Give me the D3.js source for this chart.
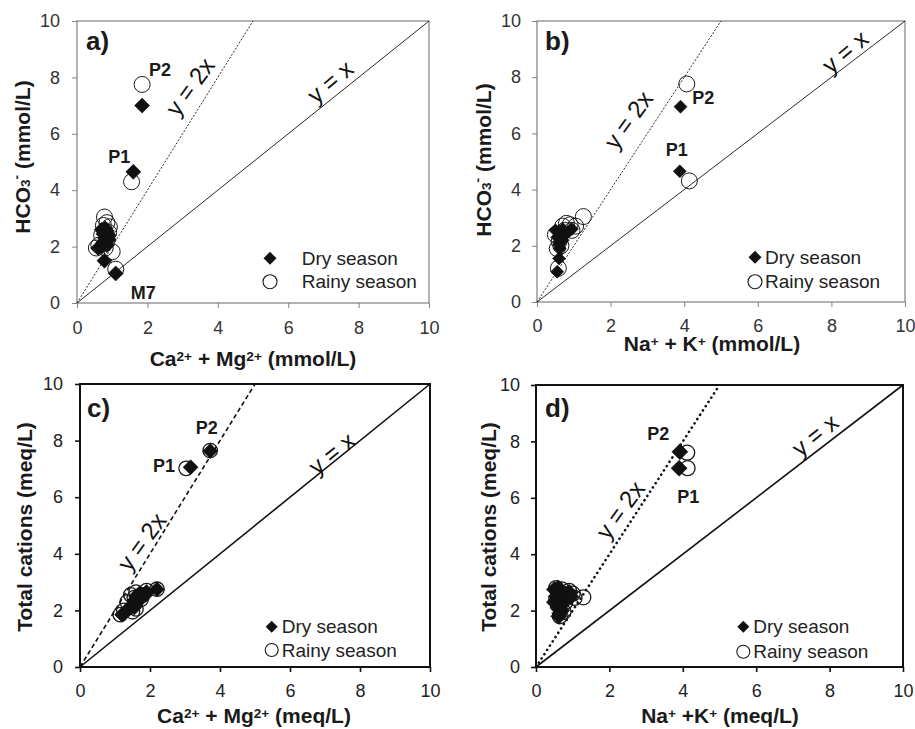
<!DOCTYPE html>
<html>
<head>
<meta charset="utf-8">
<script src="https://cdn.jsdelivr.net/npm/d3@7/dist/d3.min.js"></script>
<style>
  body { margin: 0; background: #fff; }
  svg { display: block; font-family: "Liberation Sans", Arial, sans-serif; }
</style>
</head>
<body>
<svg id="fig" width="915" height="729"></svg>
<script>
// ---------- data ----------
const tickValues = [0, 2, 4, 6, 8, 10];
const seriesNames = ["Dry season", "Rainy season"];

// a) Ca2+ + Mg2+ vs HCO3- (mmol/L)
const aDryX   = [1.85, 1.60, 1.10, 0.78, 0.60, 0.70, 0.75, 0.85, 0.80, 0.90, 0.85, 0.75, 0.80, 0.90, 0.70];
const aDryY   = [7.00, 4.65, 1.05, 1.50, 1.95, 2.00, 2.15, 2.05, 2.30, 2.40, 2.55, 2.45, 2.65, 2.25, 2.60];
const aRainyX = [1.85, 1.55, 1.10, 0.78, 0.85, 0.92, 0.75, 0.55, 0.62, 1.00, 0.85, 0.80, 0.70, 0.90];
const aRainyY = [7.75, 4.30, 1.20, 3.05, 2.85, 2.70, 2.75, 1.95, 2.05, 1.82, 2.20, 1.95, 2.40, 2.50];
const aPointLabels = ["P2", "P1", "M7"];

// b) Na+ + K+ vs HCO3- (mmol/L)
const bDryX   = [3.90, 3.88, 0.55, 0.60, 0.50, 0.60, 0.65, 0.70, 0.60, 0.62, 0.75, 0.85, 0.95, 0.70, 0.55];
const bDryY   = [6.95, 4.65, 1.08, 1.55, 2.55, 2.50, 2.35, 2.20, 2.05, 1.90, 2.40, 2.50, 2.60, 2.60, 2.30];
const bRainyX = [4.07, 4.14, 0.58, 1.26, 0.80, 0.90, 1.05, 0.55, 0.50, 0.65, 0.75, 0.95, 0.60, 0.70];
const bRainyY = [7.76, 4.31, 1.20, 3.04, 2.80, 2.75, 2.70, 1.90, 2.40, 2.00, 2.55, 2.55, 2.15, 2.70];
const bPointLabels = ["P2", "P1"];

// c) Ca2+ + Mg2+ vs total cations (meq/L)
const cDryX   = [3.72, 3.16, 1.20, 1.30, 1.40, 1.50, 1.55, 1.60, 1.70, 1.85, 1.65, 1.45, 2.20, 1.90, 1.75, 1.55];
const cDryY   = [7.63, 7.06, 1.85, 1.95, 2.05, 2.20, 2.35, 2.50, 2.60, 2.55, 2.30, 2.15, 2.75, 2.65, 2.45, 2.10];
const cRainyX = [3.72, 3.03, 1.15, 1.50, 1.60, 1.90, 2.20, 1.45, 1.60, 1.75, 1.35, 1.80, 1.55, 1.25];
const cRainyY = [7.65, 7.02, 1.85, 1.95, 2.05, 2.70, 2.75, 2.55, 2.65, 2.40, 2.30, 2.55, 2.45, 2.00];
const cPointLabels = ["P2", "P1"];

// d) Na+ + K+ vs total cations (meq/L)
const dDryX   = [3.92, 3.90, 0.50, 0.60, 0.55, 0.50, 0.60, 0.65, 0.70, 0.75, 0.80, 0.90, 0.95, 0.65, 0.70, 0.62];
const dDryY   = [7.63, 7.05, 2.75, 2.80, 2.50, 2.30, 2.10, 1.90, 2.00, 2.40, 2.60, 2.65, 2.50, 2.60, 2.20, 1.80];
const dRainyX = [4.12, 4.13, 0.55, 0.90, 1.00, 1.05, 1.29, 0.65, 0.60, 0.80, 0.70, 0.55, 0.75, 0.85];
const dRainyY = [7.60, 7.05, 2.80, 2.70, 2.60, 2.45, 2.47, 1.80, 2.20, 2.30, 2.75, 2.40, 1.95, 2.50];
const dPointLabels = ["P2", "P1"];

// ---------- layout / styling ----------
const panels = [
  {
    tag: "a)", left: 77, right: 429, top: 21, bottom: 303,
    dryX: aDryX, dryY: aDryY, rainyX: aRainyX, rainyY: aRainyY,
    frame: "#7f7f7f", frameW: 1.2, tickCol: "#7f7f7f", tickFont: 18, tickCol2: "#333",
    xPad: 13, yPad: 12,
    xTitle: [["Ca", 0], ["2+", 1], [" + Mg", 0], ["2+", 1], [" (mmol/L)", 0]], xTitlePos: [253, 366],
    yTitle: [["HCO", 0], ["3", -1], ["-", 1], [" (mmol/L)", 0]], yTitlePos: [22, 157],
    refStyle: { k2: { w: 0.9, dash: "2,1.6", cap: "butt" }, k1: { w: 0.9 } },
    refLabels: [{ t: "y = 2x", x: 3.21, y: 7.67, rot: -54 }, { t: "y = x", x: 7.19, y: 7.85, rot: -40 }],
    pointLabels: aPointLabels, pointLabelPos: [[2.36, 8.26], [1.20, 5.19], [1.88, 0.37]],
    diamondH: 7.5, circleR: 8, circleW: 1,
    legend: { mx: 193, my: 237.3, dy: 23.4, tx: 224.7, font: 19, dH: 6.5, cR: 7 },
    tagPos: [9, 29]
  },
  {
    tag: "b)", left: 537, right: 905, top: 21, bottom: 302,
    dryX: bDryX, dryY: bDryY, rainyX: bRainyX, rainyY: bRainyY,
    frame: "#7f7f7f", frameW: 1.2, tickCol: "#7f7f7f", tickFont: 18, tickCol2: "#333",
    xPad: 12, yPad: 11,
    xTitle: [["Na", 0], ["+", 1], [" + K", 0], ["+", 1], [" (mmol/L)", 0]], xTitlePos: [712, 351],
    yTitle: [["HCO", 0], ["3", -1], ["-", 1], [" (mmol/L)", 0]], yTitlePos: [483, 160],
    refStyle: { k2: { w: 0.9, dash: "2,1.6", cap: "butt" }, k1: { w: 0.9 } },
    refLabels: [{ t: "y = 2x", x: 2.48, y: 6.48, rot: -54 }, { t: "y = x", x: 8.37, y: 8.91, rot: -40 }],
    pointLabels: bPointLabels, pointLabelPos: [[4.52, 7.25], [3.80, 5.41]],
    diamondH: 6.5, circleR: 8, circleW: 1,
    legend: { mx: 218, my: 236.3, dy: 24.4, tx: 228, font: 19, dH: 6.5, cR: 7 },
    tagPos: [8, 29]
  },
  {
    tag: "c)", left: 80, right: 430, top: 384, bottom: 667,
    dryX: cDryX, dryY: cDryY, rainyX: cRainyX, rainyY: cRainyY,
    frame: "#111", frameW: 2, tickCol: "#111", tickFont: 18, tickCol2: "#222",
    xPad: 12, yPad: 12,
    xTitle: [["Ca", 0], ["2+", 1], [" + Mg", 0], ["2+", 1], [" (meq/L)", 0]], xTitlePos: [254, 723],
    yTitle: [["Total cations (meq/L)", 0]], yTitlePos: [24, 527],
    refStyle: { k2: { w: 1.6, dash: "4.5,3", cap: "butt" }, k1: { w: 1.6 } },
    refLabels: [{ t: "y = 2x", x: 1.76, y: 4.43, rot: -54 }, { t: "y = x", x: 7.19, y: 7.55, rot: -39 }],
    pointLabels: cPointLabels, pointLabelPos: [[3.62, 8.43], [2.40, 7.10]],
    diamondH: 7.5, circleR: 7.2, circleW: 1.3,
    legend: { mx: 191.7, my: 242.7, dy: 23.3, tx: 201.7, font: 19, dH: 6, cR: 6.5 },
    tagPos: [7, 33]
  },
  {
    tag: "d)", left: 536, right: 903, top: 385, bottom: 667,
    dryX: dDryX, dryY: dDryY, rainyX: dRainyX, rainyY: dRainyY,
    frame: "#111", frameW: 2, tickCol: "#111", tickFont: 18, tickCol2: "#222",
    xPad: 12, yPad: 11,
    xTitle: [["Na", 0], ["+", 1], [" +K", 0], ["+", 1], [" (meq/L)", 0]], xTitlePos: [720, 723],
    yTitle: [["Total cations (meq/L)", 0]], yTitlePos: [488, 527],
    refStyle: { k2: { w: 2.6, dash: "0.1,5", cap: "round" }, k1: { w: 1.6 } },
    refLabels: [{ t: "y = 2x", x: 2.29, y: 5.57, rot: -54 }, { t: "y = x", x: 7.60, y: 8.23, rot: -39 }],
    pointLabels: dPointLabels, pointLabelPos: [[3.33, 8.26], [4.15, 6.04]],
    diamondH: 8, circleR: 7.5, circleW: 1.3,
    legend: { mx: 207.3, my: 241.7, dy: 25, tx: 217.3, font: 19, dH: 6, cR: 6.5 },
    tagPos: [9, 32]
  }
];

const svg = d3.select("#fig");
const diamondPath = h => `M0,${-h}L${h},0L0,${h}L${-h},0Z`;

// Writes a run of normal / superscript (1) / subscript (-1) pieces into a text element
function richText(sel, parts, size) {
  parts.forEach(([str, mode]) => {
    const t = sel.append("tspan").text(str);
    if (mode === 1) t.attr("font-size", size * 0.65).attr("baseline-shift", "38%");
    if (mode === -1) t.attr("font-size", size * 0.65).attr("baseline-shift", "-22%");
  });
}

function drawPanel(p) {
  const x = d3.scaleLinear().domain([0, 10]).range([p.left, p.right]);
  const y = d3.scaleLinear().domain([0, 10]).range([p.bottom, p.top]);
  const g = svg.append("g");

  // axes
  const gx = g.append("g").attr("transform", `translate(0,${p.bottom})`)
    .call(d3.axisBottom(x).tickValues(tickValues).tickSize(5).tickSizeOuter(0).tickPadding(p.xPad));
  const gy = g.append("g").attr("transform", `translate(${p.left},0)`)
    .call(d3.axisLeft(y).tickValues(tickValues).tickSize(5).tickSizeOuter(0).tickPadding(p.yPad));
  [gx, gy].forEach(ax => {
    ax.select(".domain").remove();
    ax.selectAll(".tick line").attr("stroke", p.tickCol).attr("stroke-width", p.frameW * 0.8);
    ax.selectAll(".tick text").attr("font-size", p.tickFont).attr("fill", p.tickCol2)
      .attr("font-family", '"Liberation Sans", Arial, sans-serif');
  });

  // plot frame
  g.append("rect")
    .attr("x", p.left).attr("y", p.top)
    .attr("width", p.right - p.left).attr("height", p.bottom - p.top)
    .attr("fill", "none").attr("stroke", p.frame).attr("stroke-width", p.frameW);

  // reference lines y = x and y = 2x
  const line = d3.line().x(d => x(d[0])).y(d => y(d[1]));
  [1, 2].forEach(k => {
    const st = k === 1 ? p.refStyle.k1 : p.refStyle.k2;
    const xe = Math.min(10, 10 / k);
    g.append("path")
      .attr("d", line([[0, 0], [xe, k * xe]]))
      .attr("fill", "none").attr("stroke", "#111")
      .attr("stroke-width", st.w)
      .attr("stroke-dasharray", st.dash || null)
      .attr("stroke-linecap", st.cap || "butt");
  });
  p.refLabels.forEach(l => {
    g.append("text")
      .attr("transform", `translate(${x(l.x)},${y(l.y)}) rotate(${l.rot})`)
      .attr("text-anchor", "middle").attr("dominant-baseline", "central")
      .attr("font-size", 24).attr("fill", "#111")
      .text(l.t);
  });

  // rainy season (open circles) beneath dry season (filled diamonds)
  g.append("g").selectAll("circle")
    .data(d3.range(p.rainyX.length)).join("circle")
    .attr("cx", i => x(p.rainyX[i])).attr("cy", i => y(p.rainyY[i]))
    .attr("r", p.circleR)
    .attr("fill", "none").attr("stroke", "#1a1a1a").attr("stroke-width", p.circleW);
  g.append("g").selectAll("path")
    .data(d3.range(p.dryX.length)).join("path")
    .attr("transform", i => `translate(${x(p.dryX[i])},${y(p.dryY[i])})`)
    .attr("d", diamondPath(p.diamondH))
    .attr("fill", "#111").attr("stroke", "#111").attr("stroke-width", 0.6);

  // sample labels
  p.pointLabels.forEach((t, i) => {
    g.append("text")
      .attr("x", x(p.pointLabelPos[i][0])).attr("y", y(p.pointLabelPos[i][1]))
      .attr("text-anchor", "middle").attr("dominant-baseline", "central")
      .attr("font-size", 18).attr("font-weight", "bold").attr("fill", "#1a1a1a")
      .text(t);
  });

  // panel tag
  g.append("text")
    .attr("x", p.left + p.tagPos[0]).attr("y", p.top + p.tagPos[1])
    .attr("font-size", 26).attr("font-weight", "bold").attr("fill", "#1a1a1a")
    .text(p.tag);

  // legend
  const L = p.legend;
  const lg = g.append("g").attr("transform", `translate(${p.left},${p.top})`);
  lg.append("path").attr("transform", `translate(${L.mx},${L.my})`)
    .attr("d", diamondPath(L.dH)).attr("fill", "#111");
  lg.append("circle").attr("cx", L.mx).attr("cy", L.my + L.dy).attr("r", L.cR)
    .attr("fill", "#fff").attr("stroke", "#1a1a1a").attr("stroke-width", 1.1);
  seriesNames.forEach((s, i) => {
    lg.append("text").attr("x", L.tx).attr("y", L.my + i * L.dy)
      .attr("dominant-baseline", "central").attr("font-size", L.font).attr("fill", "#222")
      .text(s);
  });

  // axis titles
  const xt = g.append("text")
    .attr("x", p.xTitlePos[0]).attr("y", p.xTitlePos[1])
    .attr("text-anchor", "middle").attr("font-size", 21).attr("font-weight", "bold").attr("fill", "#1a1a1a");
  richText(xt, p.xTitle, 21);
  const yt = g.append("text")
    .attr("transform", `translate(${p.yTitlePos[0]},${p.yTitlePos[1]}) rotate(-90)`)
    .attr("text-anchor", "middle").attr("dominant-baseline", "central")
    .attr("font-size", 21).attr("font-weight", "bold").attr("fill", "#1a1a1a");
  richText(yt, p.yTitle, 21);
}

panels.forEach(drawPanel);
</script>
</body>
</html>
